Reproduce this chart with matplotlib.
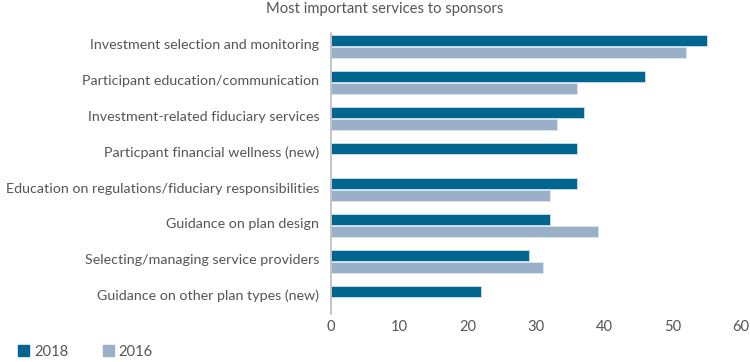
import matplotlib.pyplot as plt
import numpy as np
from matplotlib.patches import Patch

plt.rcParams['font.family'] = ['Lato', 'DejaVu Sans']

services = ["Investment selection and monitoring",
            "Participant education/communication",
            "Investment-related fiduciary services",
            "Particpant financial wellness (new)",
            "Education on regulations/fiduciary responsibilities",
            "Guidance on plan design",
            "Selecting/managing service providers",
            "Guidance on other plan types (new)"]
vals_2018 = [55, 46, 37, 36, 36, 32, 29, 22]
vals_2016 = [52, 36, 33, 0, 32, 39, 31, 0]

c2018 = '#00668f'
c2016 = '#9aafc8'
txt = '#555555'
fs = 10.6

fig = plt.figure(figsize=(7.5, 3.62), dpi=100)
ax = fig.add_axes([331/750, 1-314/362, 410/750, 281/362])

y = np.arange(len(services))
h = 0.31
ax.barh(y - h/2 - 0.01, vals_2018, height=h, color=c2018, edgecolor='#cfe0ea', linewidth=0.6)
ax.barh(y + h/2 + 0.01, vals_2016, height=h, color=c2016, edgecolor='#dde6ef', linewidth=0.6)

ax.set_xlim(0, 60)
ax.set_ylim(7.47, -0.38)
ax.set_xticks(range(0, 61, 10))
ax.set_yticks(y - 0.06)
ax.set_yticklabels(services)
ax.tick_params(length=0, colors=txt, labelsize=fs)
ax.tick_params(axis='y', pad=8.5, labelsize=10.25)
ax.tick_params(axis='x', pad=4)
for s in ['top', 'right', 'bottom']:
    ax.spines[s].set_visible(False)
ax.spines['left'].set_color('#bbbbbb')
ax.spines['left'].set_linewidth(1.2)

fig.text(385/750, 1-9/362, "Most important services to sponsors", ha='center', va='center',
         color=txt, fontsize=fs)

handles = [Patch(color=c2018, label='2018'), Patch(color=c2016, label='2016')]
leg = fig.legend(handles=handles, loc='center left', bbox_to_anchor=(5/750, 1-352/362),
                 ncol=2, frameon=False, handlelength=0.75, handleheight=0.75,
                 handletextpad=0.35, columnspacing=2.3, fontsize=fs)
for t in leg.get_texts():
    t.set_color(txt)

fig.savefig('out.png', dpi=100)
